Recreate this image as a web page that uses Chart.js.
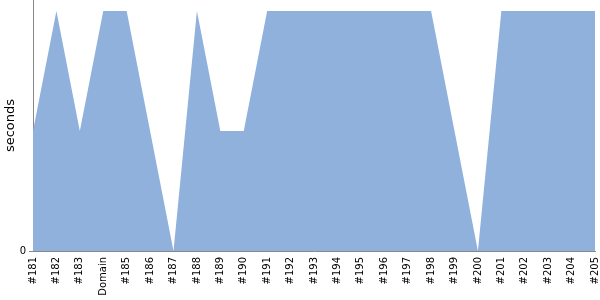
<!DOCTYPE html>
<html>
<head>
<meta charset="utf-8">
<script src="https://cdn.jsdelivr.net/npm/chart.js@4"></script>
<style>
html,body{margin:0;padding:0;background:#fff;}
#wrap{width:600px;height:300px;}
</style>
</head>
<body>
<div id="wrap"><canvas id="c" width="600" height="300"></canvas></div>
<script>
const categories = ["#181","#182","#183","Domain","#185","#186","#187","#188","#189","#190","#191","#192","#193","#194","#195","#196","#197","#198","#199","#200","#201","#202","#203","#204","#205"];
const seconds = [1,2,1,2,2,1,0,2,1,1,2,2,2,2,2,2,2,2,1,0,2,2,2,2,2];
const yTickValues = [0];
const yTitle = "seconds";

new Chart(document.getElementById('c'), {
  type: 'line',
  data: {
    labels: categories,
    datasets: [{
      data: seconds,
      fill: 'origin',
      backgroundColor: 'rgb(143,177,219)',
      borderColor: 'rgb(143,177,219)',
      borderWidth: 0,
      pointRadius: 0,
      tension: 0
    }]
  },
  options: {
    responsive: false,
    animation: false,
    layout: { padding: { top: 0, right: 5, bottom: 0, left: 0 } },
    plugins: { legend: { display: false }, tooltip: { enabled: false } },
    scales: {
      x: {
        offset: false,
        grid: { drawOnChartArea: false, drawTicks: false },
        border: { display: true, color: '#888', width: 1 },
        ticks: {
          autoSkip: false, maxRotation: 90, minRotation: 90,
          color: '#000', padding: 6,
          font: { family: 'DejaVu Sans', size: 10 }
        },
        afterFit: s => { s.height = 49; s.paddingLeft = 0; s.paddingRight = 0; }
      },
      y: {
        min: 0, max: 2.092,
        grid: { drawOnChartArea: false, drawTicks: true, tickLength: 4, color: '#888' },
        border: { display: true, color: '#888', width: 1 },
        afterBuildTicks: s => { s.ticks = yTickValues.map(v => ({ value: v })); },
        ticks: { color: '#000', padding: 3, font: { family: 'DejaVu Sans', size: 10 } },
        title: { display: true, text: yTitle, color: '#000', padding: { top: 3, bottom: 0 }, font: { family: 'DejaVu Sans', size: 13 } },
        afterFit: s => { s.width = 33; s.paddingTop = 0; s.paddingBottom = 0; }
      }
    }
  }
});
</script>
</body>
</html>
